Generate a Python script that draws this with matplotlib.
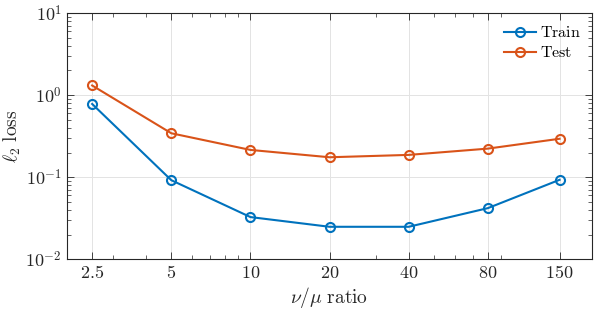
import matplotlib
matplotlib.use('Agg')
import matplotlib.pyplot as plt
from matplotlib.ticker import LogLocator, NullFormatter

# data
ratio = [2.5, 5, 10, 20, 40, 80, 150]
ratio_labels = ['2.5', '5', '10', '20', '40', '80', '150']
train_loss = [0.78, 0.092, 0.0327, 0.0249, 0.0249, 0.042, 0.093]
test_loss = [1.31, 0.343, 0.215, 0.175, 0.187, 0.223, 0.294]

plt.rcParams['mathtext.fontset'] = 'cm'
plt.rcParams['font.family'] = ['DejaVu Serif']

blue = '#0072BD'
orange = '#D95319'
edge = '#262626'

fig = plt.figure(figsize=(5.94, 3.10), dpi=100)
ax = fig.add_axes([0.1123, 0.1635, 0.8850, 0.7945])

ax.plot(ratio, train_loss, '-o', color=blue, lw=1.5, ms=6.5, mfc='none', mew=1.5, label=r'$\mathrm{Train}$')
ax.plot(ratio, test_loss, '-o', color=orange, lw=1.5, ms=6.5, mfc='none', mew=1.5, label=r'$\mathrm{Test}$')

ax.set_xscale('log')
ax.set_yscale('log')
ax.set_xlim(2, 200)
ax.set_ylim(1e-2, 1e1)

ax.set_xticks(ratio)
ax.set_xticklabels(['$' + s + '$' for s in ratio_labels])
ax.xaxis.set_minor_locator(LogLocator(base=10, subs=range(2, 10)))
ax.xaxis.set_minor_formatter(NullFormatter())
ax.set_yticks([1e-2, 1e-1, 1e0, 1e1])
ax.set_yticklabels([r'$10^{-2}$', r'$10^{-1}$', r'$10^{0}$', r'$10^{1}$'])
ax.yaxis.set_minor_locator(LogLocator(base=10, subs=range(2, 10)))
ax.yaxis.set_minor_formatter(NullFormatter())

ax.tick_params(which='both', direction='in', top=True, right=True, colors=edge, labelsize=13)
ax.tick_params(which='major', length=5, width=0.6)
ax.tick_params(which='minor', length=3, width=0.5)
for s in ax.spines.values():
    s.set_color(edge)
    s.set_linewidth(0.8)

ax.grid(True, which='major', color='#e3e3e3', lw=0.7)
ax.set_axisbelow(True)

ax.set_xlabel(r'$\nu/\mu\ \mathrm{ratio}$', fontsize=14, color=edge, labelpad=2)
ax.set_ylabel(r'$\ell_2\ \mathrm{loss}$', fontsize=14, color=edge, labelpad=2)

ax.legend(loc='upper right', frameon=False, fontsize=11.5, handlelength=2.0,
          handletextpad=0.3, borderaxespad=0.3, labelspacing=0.2)

fig.savefig('out.png', dpi=100)
